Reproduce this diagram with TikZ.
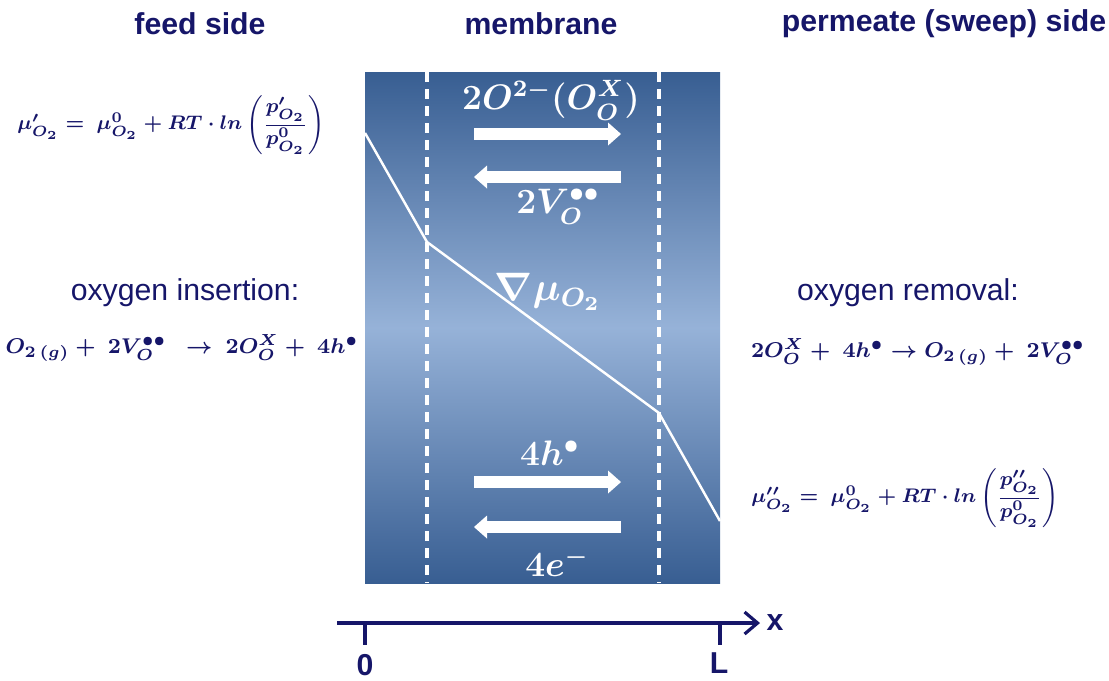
\documentclass[tikz,border=0pt]{standalone}
\usepackage{fontspec}
\setmainfont{Liberation Sans}
\usepackage{amsmath,bm}
\usetikzlibrary{arrows.meta,positioning}
\definecolor{navy}{RGB}{22,22,105}
\definecolor{memdark}{RGB}{56,94,146}
\definecolor{memlight}{RGB}{150,178,216}
\begin{document}
\begin{tikzpicture}[
title/.style={font=\bfseries\fontsize{8.6}{10}\selectfont,text=navy},
plain/.style={font=\fontsize{8.6}{10}\selectfont,text=navy},
eqn/.style={font=\fontsize{8.4}{10}\selectfont\boldmath,text=navy,scale=0.70,transform shape},
reac/.style={font=\fontsize{8.4}{10}\selectfont\boldmath,text=navy,scale=0.76,transform shape},
carrier/.style={font=\fontsize{12}{14}\selectfont\boldmath,text=white,scale=0.84,transform shape},
membranebox/.style={minimum width=3.55cm,minimum height=5.11cm,inner sep=0pt,
  top color=memdark,bottom color=memdark,middle color=memlight},
flux/.style={white,line width=3.4pt,-{Triangle[length=1.3mm,width=2.3mm,line width=0pt]}},
interface/.style={white,line width=0.9pt,dash pattern=on 1mm off 0.7mm},
axis/.style={navy,line width=0.9pt}]
\useasboundingbox (0,0) rectangle (11.09,-6.8);
% membrane body
\node[membranebox](memb)at(5.425,-3.275){};
\coordinate(ifeedtop)at(4.27,-0.72);\coordinate(ifeedbot)at(4.27,-5.83);
\coordinate(ipermtop)at(6.59,-0.72);\coordinate(ipermbot)at(6.59,-5.83);
\draw[interface](ifeedtop)--(ifeedbot);
\draw[interface](ipermtop)--(ipermbot);
% chemical potential profile
\coordinate(mu0)at(3.65,-1.33);\coordinate(mu1)at(4.27,-2.42);
\coordinate(mu2)at(6.59,-4.13);\coordinate(mu3)at(7.20,-5.21);
\draw[white,line width=0.7pt](mu0)--(mu1)--(mu2)--(mu3);
% fluxes
\coordinate(ionL)at(4.74,-1.34);\coordinate(ionR)at(6.21,-1.34);
\coordinate(vacR)at(6.21,-1.77);\coordinate(vacL)at(4.74,-1.77);
\coordinate(holeL)at(4.74,-4.82);\coordinate(holeR)at(6.21,-4.82);
\coordinate(elecR)at(6.21,-5.27);\coordinate(elecL)at(4.74,-5.27);
\draw[flux](ionL)--(ionR);\draw[flux](vacR)--(vacL);
\draw[flux](holeL)--(holeR);\draw[flux](elecR)--(elecL);
\node[carrier](ion)at(5.51,-1.00){$2O^{2-}(O_O^X)$};
\node[carrier](vac)at(5.58,-2.07){$2V_O^{\bullet\bullet}$};
\node[carrier,scale=1.12](grad)at(5.48,-2.92){$\nabla\mu_{O_2}$};
\node[carrier](hole)at(5.50,-4.53){$4h^{\bullet}$};
\node[carrier](elec)at(5.57,-5.62){$4e^{-}$};
% titles
\node[title](feed)at(2.00,-0.24){feed side};
\node[title](mtitle)at(5.41,-0.24){membrane};
\node[title](perm)at(9.44,-0.24){permeate (sweep) side};
% feed side
\node[eqn](mufeed)at(1.71,-1.25){$\mu'_{O_2} =\ \mu^0_{O_2} + RT\cdot ln\left(\dfrac{p'_{O_2}}{p^0_{O_2}}\right)$};
\node[plain](ins)at(1.85,-2.93){oxygen insertion:};
\node[reac](insreac)at(1.82,-3.48){$O_{2\,(g)} +\ 2V_O^{\bullet\bullet}\ \ \rightarrow\ 2O_O^X +\ 4h^{\bullet}$};
% permeate side
\node[plain](rem)at(9.08,-2.93){oxygen removal:};
\node[reac](remreac)at(9.18,-3.52){$2O_O^X +\ 4h^{\bullet}\rightarrow O_{2\,(g)} +\ 2V_O^{\bullet\bullet}$};
\node[eqn](muperm)at(9.05,-4.98){$\mu''_{O_2} =\ \mu^0_{O_2} + RT\cdot ln\left(\dfrac{p''_{O_2}}{p^0_{O_2}}\right)$};
% position axis
\coordinate(xstart)at(3.37,-6.23);\coordinate(xend)at(7.60,-6.23);
\coordinate(tick0)at(3.65,-6.23);\coordinate(tickL)at(7.20,-6.23);
\coordinate(tick0b)at(3.65,-6.45);\coordinate(tickLb)at(7.20,-6.45);
\draw[axis,-{Straight Barb[length=1.3mm,width=2.2mm]}](xstart)--(xend);
\draw[axis](tick0)--(tick0b);\draw[axis](tickL)--(tickLb);
\node[title](xlab)at(7.75,-6.22){x};
\node[title](zero)at(3.65,-6.65){0};
\node[title](len)at(7.19,-6.63){L};
\end{tikzpicture}
\end{document}
